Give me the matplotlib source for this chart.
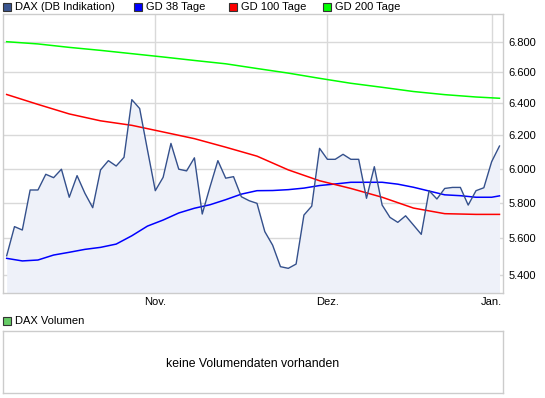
import matplotlib
matplotlib.use("Agg")
import matplotlib.pyplot as plt
from matplotlib.patches import Rectangle
from matplotlib.ticker import FixedLocator, NullLocator, FixedFormatter

plt.rcParams['font.family'] = ['Liberation Sans', 'DejaVu Sans']

# ---- data (trading-day index 0 = 5 Oct 2011) ----
dax = [5504, 5665, 5646, 5874, 5874, 5966, 5946, 5996, 5832, 5958,
       5855, 5772, 5992, 6047, 6015, 6067, 6423, 6367, 6111, 5870,
       5948, 6151, 5996, 5986, 6064, 5736, 5893, 6047, 5943, 5952,
       5835, 5812, 5797, 5637, 5562, 5445, 5436, 5459, 5730, 5781,
       6121, 6055, 6055, 6085, 6055, 6055, 5826, 6011, 5787, 5717,
       5689, 5726, 5674, 5622, 5870, 5822, 5883, 5889, 5889, 5787,
       5870, 5887, 6041, 6135]

gd38_idx = [0, 2, 4, 6, 8, 10, 12, 14, 16, 18, 20, 22, 24, 26, 28, 30, 32,
            34, 36, 38, 40, 42, 44, 46, 48, 50, 52, 54, 56, 58, 60, 62, 63]
gd38 = [5490, 5476, 5481, 5508, 5523, 5539, 5550, 5568, 5614, 5668,
        5702, 5742, 5769, 5789, 5818, 5850, 5870, 5871, 5876, 5885,
        5900, 5909, 5919, 5919, 5919, 5908, 5890, 5868, 5846, 5841,
        5832, 5832, 5840]

ma_idx = [0, 4, 8, 12, 16, 20, 24, 28, 32, 36, 40, 44, 48, 52, 56, 60, 63]
gd100 = [6456, 6393, 6333, 6290, 6262, 6221, 6180, 6128, 6074, 5992,
         5928, 5883, 5832, 5770, 5738, 5734, 5734]
gd200 = [6802, 6787, 6764, 6744, 6722, 6700, 6677, 6655, 6624, 6594,
         6560, 6528, 6502, 6475, 6455, 6440, 6432]

month_pos = [19, 41, 62]
month_labels = ["Nov.", "Dez.", "Jan."]
ytick_vals = [5400, 5600, 5800, 6000, 6200, 6400, 6600, 6800]
ytick_labels = ["5.400", "5.600", "5.800", "6.000", "6.200", "6.400", "6.600", "6.800"]

legend_names = ["DAX (DB Indikation)", "GD 38 Tage", "GD 100 Tage", "GD 200 Tage"]
legend_colors = ["#3a5590", "#0000ff", "#ff0000", "#00ff00"]

W, H = 545, 398
fig = plt.figure(figsize=(W / 100, H / 100), dpi=100)

def fx(px):
    return px / W

def fy(py):
    return 1 - py / H

grid_c = "#d9d9d9"
frame_c = "#cccccc"

# ---- main price axes ----
ax = fig.add_axes([fx(3), fy(293), fx(500), (293 - 14) / H])
x = list(range(len(dax)))
ax.set_yscale('log')
ax.fill_between(x, dax, 5000, color="#eef1f9", lw=0, zorder=1)
ax.plot(x, dax, color="#34508c", lw=1.0, zorder=4)
ax.plot(gd38_idx, gd38, color="#0000ff", lw=1.1, zorder=3)
ax.plot(ma_idx, gd100, color="#ff0000", lw=1.1, zorder=3)
ax.plot(ma_idx, gd200, color="#00ff00", lw=1.1, zorder=3)

ax.set_xlim(-0.47, 63.45)
ax.set_ylim(5305, 6991)
ax.yaxis.set_major_locator(FixedLocator(ytick_vals))
ax.yaxis.set_major_formatter(FixedFormatter(ytick_labels))
ax.yaxis.set_minor_locator(NullLocator())
ax.yaxis.tick_right()
ax.set_xticks(month_pos)
ax.set_xticklabels(month_labels)
ax.tick_params(axis='both', length=0, labelsize=8, colors='black')
ax.tick_params(axis='y', pad=4)
ax.tick_params(axis='x', pad=3)
ax.grid(True, color=grid_c, lw=1.0, zorder=0)
ax.set_axisbelow(True)
for s in ax.spines.values():
    s.set_color(frame_c)
    s.set_linewidth(1.0)

# ---- legend at top ----
leg_x = [3, 134, 229, 323]
for lx, name, col in zip(leg_x, legend_names, legend_colors):
    fig.patches.append(Rectangle((fx(lx), fy(11)), fx(8), 8 / H, transform=fig.transFigure,
                                 facecolor=col, edgecolor="#333333", lw=0.8))
    fig.text(fx(lx + 12), fy(7), name, fontsize=8, va='center', ha='left')

# ---- volume panel ----
vax = fig.add_axes([fx(3), fy(393), fx(500), (393 - 331) / H])
vax.set_xticks([])
vax.set_yticks([])
for s in vax.spines.values():
    s.set_color(frame_c)
    s.set_linewidth(1.0)
vax.text(0.5, 0.47, "keine Volumendaten vorhanden", transform=vax.transAxes,
         ha='center', va='center', fontsize=8.8)
fig.patches.append(Rectangle((fx(3), fy(325)), fx(8), 8 / H, transform=fig.transFigure,
                             facecolor="#66cc66", edgecolor="#333333", lw=0.8))
fig.text(fx(15), fy(321), "DAX Volumen", fontsize=8, va='center', ha='left')

fig.savefig("out.png", dpi=100)
